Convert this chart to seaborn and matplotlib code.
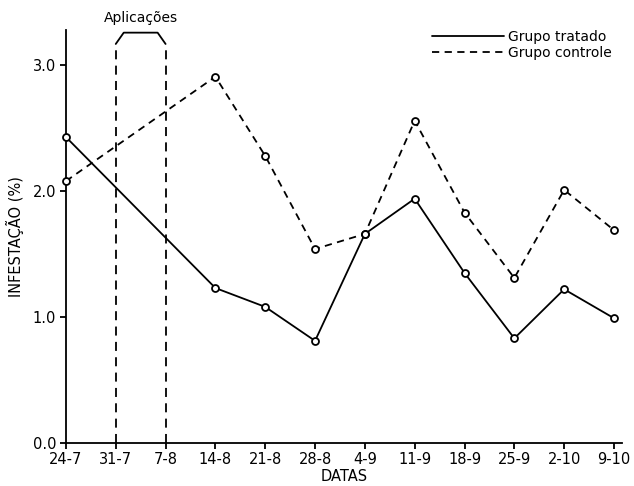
import pandas as pd
import matplotlib
matplotlib.use("Agg")
import matplotlib.pyplot as plt
import seaborn as sns
from matplotlib.lines import Line2D

# all dates on the x axis
datas = ["24-7", "31-7", "7-8", "14-8", "21-8", "28-8", "4-9", "11-9",
         "18-9", "25-9", "2-10", "9-10"]

# dates with a measurement (no samples during the applications)
datas_medidas = ["24-7", "14-8", "21-8", "28-8", "4-9", "11-9",
                 "18-9", "25-9", "2-10", "9-10"]
tratado = [2.43, 1.23, 1.08, 0.81, 1.66, 1.94, 1.35, 0.83, 1.22, 0.99]
controle = [2.08, 2.91, 2.28, 1.54, 1.66, 2.56, 1.83, 1.31, 2.01, 1.69]

# application window
aplicacoes = ["31-7", "7-8"]

df = pd.DataFrame({
    "data": datas_medidas * 2,
    "infestacao": tratado + controle,
    "grupo": ["Grupo tratado"] * len(tratado) + ["Grupo controle"] * len(controle),
})
df["pos"] = df["data"].map({d: i for i, d in enumerate(datas)})

sns.set_style("ticks")
plt.rcParams["font.family"] = ["DejaVu Sans"]
plt.rcParams["text.color"] = "black"
plt.rcParams["axes.labelcolor"] = "black"
plt.rcParams["xtick.color"] = "black"
plt.rcParams["ytick.color"] = "black"

fig = plt.figure(figsize=(6.34, 4.86), dpi=100)
ax = fig.add_axes([0.104, 0.089, 0.877, 0.849])

estilos = {"Grupo tratado": "-", "Grupo controle": (0, (4, 3))}
for grupo, sub in df.groupby("grupo", sort=False):
    sns.lineplot(data=sub, x="pos", y="infestacao", ax=ax, color="black",
                 linewidth=1.3, linestyle=estilos[grupo], marker="o",
                 markersize=5, markerfacecolor="white",
                 markeredgecolor="black", markeredgewidth=1.3,
                 legend=False, clip_on=False, zorder=3)

# dashed lines marking the applications + bracket on top
x0 = datas.index(aplicacoes[0])
x1 = datas.index(aplicacoes[1])
for xv in (x0, x1):
    ax.plot([xv, xv], [0, 3.17], color="black", lw=1.3,
            linestyle=(0, (5, 3.5)), clip_on=False)
ax.plot([x0, x0 + 0.16, x1 - 0.16, x1], [3.17, 3.26, 3.26, 3.17],
        color="black", lw=1.3, clip_on=False)
ax.text((x0 + x1) / 2, 3.32, "Aplicações", ha="center", va="bottom",
        fontsize=10)

ax.set_xlim(0, 11.16)
ax.set_ylim(0, 3.28)
ax.set_xticks(range(len(datas)))
ax.set_xticklabels(datas, fontsize=10.5)
ax.set_yticks([0, 1, 2, 3])
ax.set_yticklabels(["0.0", "1.0", "2.0", "3.0"], fontsize=10.5)
ax.tick_params(length=4, width=1.3, color="black", pad=3)
for s in ["left", "bottom"]:
    ax.spines[s].set_linewidth(1.3)
    ax.spines[s].set_color("black")
sns.despine(ax=ax)

ax.set_xlabel("DATAS", fontsize=10.5, labelpad=1)
ax.set_ylabel("INFESTAÇÃO (%)", fontsize=10.5, labelpad=6)

handles = [Line2D([], [], color="black", lw=1.3, linestyle="-"),
           Line2D([], [], color="black", lw=1.3, linestyle=(0, (4, 3)))]
fig.legend(handles, ["Grupo tratado", "Grupo controle"], loc="upper right",
           bbox_to_anchor=(0.985, 0.965), frameon=False, fontsize=10,
           handlelength=5.2, handletextpad=0.3, labelspacing=0.2)

fig.savefig("out.png", dpi=100)
